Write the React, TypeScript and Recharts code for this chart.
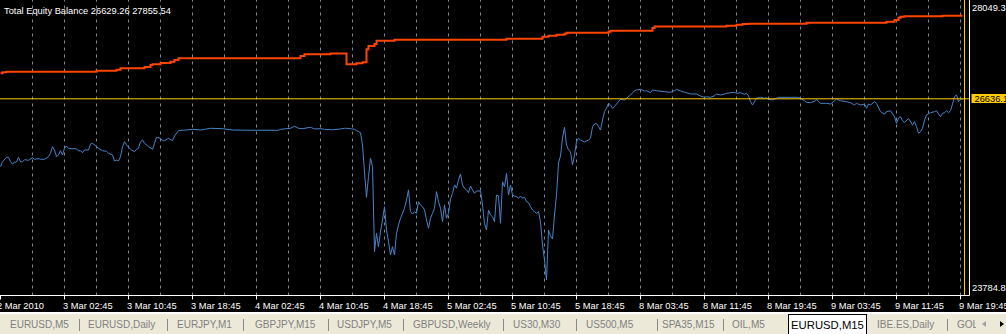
import React from "react";
import { LineChart, Line, XAxis, YAxis, ReferenceLine } from "recharts";

// balance (step line) – bar index where the balance changed, and the new balance
const balanceBars = [
  0, 1, 3, 48, 58, 60, 72, 75, 76, 80, 85, 87, 89, 150, 152, 165, 173, 178, 181, 183,
  184, 187, 188, 197, 253, 271, 274, 278, 282, 283, 304, 305, 326, 327, 363, 368, 371, 374, 403, 443,
  447, 449, 450, 452, 471, 481,
];
const balanceValues = [
  27011, 27025, 27034, 27049, 27064, 27084, 27103, 27133, 27143, 27162, 27181, 27206, 27231, 27265, 27290, 27302, 27143, 27158, 27172, 27363,
  27412, 27441, 27490, 27504, 27519, 27548, 27563, 27578, 27593, 27607, 27622, 27637, 27676, 27698, 27710, 27725, 27735, 27739, 27754, 27769,
  27794, 27828, 27842, 27848, 27855.54, 27855.54,
];

// equity – bar index and equity value
const equityBars = [
  0, 1, 3, 4, 5, 6, 7, 8, 9, 10, 11, 12, 14, 16, 17, 19, 20, 22, 24, 25,
  26, 27, 28, 29, 30, 31, 32, 33, 34, 36, 38, 39, 40, 41, 42, 44, 45, 46, 48, 49,
  51, 53, 54, 56, 57, 58, 59, 60, 61, 62, 63, 65, 67, 68, 69, 70, 71, 72, 74, 76,
  77, 78, 80, 81, 82, 84, 86, 87, 89, 91, 93, 96, 100, 102, 105, 111, 116, 125, 139, 140,
  145, 147, 149, 151, 155, 157, 160, 162, 166, 170, 172, 173, 175, 177, 178, 180, 181, 182, 183, 184,
  185, 186, 187, 188, 189, 190, 191, 192, 193, 194, 195, 196, 197, 198, 199, 200, 202, 203, 204, 205,
  206, 207, 208, 209, 210, 211, 212, 213, 214, 215, 216, 217, 218, 219, 220, 221, 222, 223, 224, 225,
  226, 227, 228, 229, 230, 231, 232, 233, 234, 235, 236, 237, 238, 240, 241, 242, 243, 244, 245, 246,
  247, 248, 249, 250, 251, 252, 253, 254, 255, 256, 257, 258, 259, 260, 261, 262, 263, 264, 265, 266,
  267, 268, 269, 270, 271, 272, 273, 274, 275, 276, 277, 278, 279, 280, 281, 282, 283, 284, 285, 286,
  287, 288, 289, 290, 292, 294, 295, 296, 297, 298, 299, 300, 301, 302, 303, 304, 305, 306, 307, 308,
  309, 310, 312, 313, 315, 317, 318, 320, 322, 323, 325, 326, 328, 332, 335, 337, 338, 340, 342, 343,
  345, 348, 350, 352, 353, 355, 357, 358, 360, 362, 363, 367, 368, 370, 372, 373, 374, 375, 376, 377,
  378, 380, 382, 383, 384, 386, 388, 389, 395, 398, 400, 402, 403, 405, 407, 408, 409, 410, 413, 415,
  417, 418, 420, 423, 425, 427, 428, 430, 432, 433, 434, 435, 437, 438, 440, 442, 443, 445, 447, 448,
  449, 450, 451, 452, 454, 456, 457, 458, 459, 460, 461, 462, 463, 465, 467, 468, 469, 470, 471, 472,
  473, 474, 475, 476, 477, 478, 479, 480, 481,
];
const equityValues = [
  25639, 25712, 25777, 25777, 25712, 25678, 25703, 25708, 25777, 25712, 25712, 25742, 25733, 25771, 25748, 25756, 25748, 25748, 25786, 25836,
  25933, 25884, 25786, 25811, 25874, 25811, 25909, 25943, 25909, 25903, 25903, 25869, 25874, 25844, 25884, 25884, 25972, 25983, 25933, 25909,
  25874, 25865, 25836, 25811, 25723, 25737, 25723, 25786, 25933, 26006, 25958, 25894, 25859, 25894, 25909, 26006, 26031, 25983, 25933, 25894,
  25983, 26071, 26056, 26021, 26021, 26056, 26021, 26090, 26168, 26174, 26178, 26188, 26178, 26188, 26203, 26197, 26178, 26174, 26174, 26188,
  26203, 26232, 26203, 26197, 26218, 26193, 26197, 26188, 26182, 26193, 26203, 26203, 26197, 26188, 26168, 26138, 25958, 25561, 25189, 25492,
  25762, 25639, 24390, 24660, 24464, 24684, 24856, 25051, 24709, 24537, 24342, 24464, 24342, 24660, 24782, 24881, 25028, 25150, 25297, 24978,
  24944, 24978, 24954, 25125, 25076, 25051, 25003, 24856, 24734, 24881, 24954, 25028, 25272, 25125, 25028, 24831, 25076, 24881, 24954, 25164,
  25248, 25370, 25322, 25443, 25532, 25370, 25322, 25297, 25257, 25355, 25297, 25248, 25282, 25282, 25076, 24807, 24709, 25003, 24929, 24904,
  24831, 25223, 25208, 24807, 25418, 25345, 25542, 25223, 25370, 25223, 25208, 25198, 25175, 25208, 25175, 25189, 25125, 25110, 25051, 25003,
  24978, 24954, 24978, 24826, 24489, 24268, 23974, 24709, 24621, 24577, 24929, 25223, 25693, 25796, 26060, 26218, 25958, 25884, 25859, 25664,
  25811, 26006, 26056, 26031, 26002, 26031, 26056, 26226, 26266, 26276, 26226, 26178, 26325, 26447, 26497, 26570, 26545, 26497, 26520, 26560,
  26594, 26629, 26619, 26644, 26692, 26755, 26766, 26776, 26751, 26755, 26726, 26766, 26755, 26741, 26732, 26755, 26776, 26751, 26732, 26726,
  26707, 26707, 26677, 26658, 26667, 26658, 26682, 26707, 26692, 26707, 26717, 26732, 26717, 26726, 26702, 26717, 26677, 26594, 26545, 26594,
  26644, 26658, 26644, 26652, 26629, 26619, 26644, 26658, 26658, 26658, 26644, 26608, 26585, 26579, 26600, 26629, 26594, 26570, 26570, 26560,
  26608, 26633, 26608, 26594, 26579, 26545, 26570, 26545, 26560, 26497, 26560, 26545, 26594, 26570, 26447, 26409, 26447, 26461, 26373, 26276,
  26354, 26373, 26315, 26285, 26350, 26251, 26300, 26226, 26129, 26153, 26203, 26325, 26398, 26432, 26447, 26461, 26413, 26373, 26423, 26432,
  26461, 26432, 26461, 26560, 26667, 26692, 26594, 26626, 26629.26,
];

const xTickBars = [0, 32, 64, 96, 128, 160, 192, 224, 256, 288, 320, 352, 384, 416, 448, 480];
const xLabels = [
  "2 Mar 2010", "3 Mar 02:45", "3 Mar 10:45", "3 Mar 18:45", "4 Mar 02:45", "4 Mar 10:45",
  "4 Mar 18:45", "5 Mar 02:45", "5 Mar 10:45", "5 Mar 18:45", "8 Mar 03:45", "8 Mar 11:45",
  "8 Mar 19:45", "9 Mar 03:45", "9 Mar 11:45", "9 Mar 19:45",
];
const gridBars = [
  16, 32, 48, 64, 80, 96, 112, 128, 144, 160, 176, 192, 208, 224, 240,
  256, 272, 288, 304, 320, 336, 352, 368, 384, 400, 416, 432, 448, 464, 480,
];
const lastBar = 482;

const yTicks = [28049.3, 26636.1, 23784.8];
const yTickLabels = ["28049.3", "26636.1", "23784.8"];
const currentEquity = 26636.1;

const tabs = [
  { label: "EURUSD,M5", x: 10 },
  { label: "EURUSD,Daily", x: 88 },
  { label: "EURJPY,M1", x: 177 },
  { label: "GBPJPY,M15", x: 255 },
  { label: "USDJPY,M5", x: 337 },
  { label: "GBPUSD,Weekly", x: 413 },
  { label: "US30,M30", x: 513 },
  { label: "US500,M5", x: 586 },
  { label: "SPA35,M15", x: 662 },
  { label: "OIL,M5", x: 732 },
  { label: "IBE.ES,Daily", x: 877 },
  { label: "GOL", x: 957 },
];
const separators = [79, 167, 243, 328, 403, 503, 576, 657, 723, 947];

const balanceData = balanceBars.map((bar, i) => ({ bar, v: balanceValues[i] }));
const equityData = equityBars.map((bar, i) => ({ bar, v: equityValues[i] }));

const FONT = "'Liberation Sans', Arial, sans-serif";
const GOLD = "#ffcc00";
const GRID = "#778899";

const XTick = (props: any) => {
  const { x, payload } = props;
  const i = xTickBars.indexOf(payload.value);
  if (i < 0) return null;
  return (
    <text x={x + (i === 0 ? -3.5 : -1.5)} y={308.5} fill="#fff" fontSize={9.3} fontFamily={FONT}>
      {xLabels[i]}
    </text>
  );
};

const YTick = (props: any) => {
  const { y, payload } = props;
  const i = yTicks.indexOf(payload.value);
  if (i < 0) return null;
  if (payload.value === currentEquity) {
    return (
      <g>
        <rect x={971.5} y={y - 4.8} width={40} height={9} fill={GOLD} />
        <text x={974.5} y={y + 3.4} fill="#000" fontSize={9.3} fontFamily={FONT}>
          {yTickLabels[i]}
        </text>
      </g>
    );
  }
  const dy = i === 0 ? 8 : -2.4;
  return (
    <text x={972} y={y + dy} fill="#fff" fontSize={9.3} fontFamily={FONT}>
      {yTickLabels[i]}
    </text>
  );
};

export default function App() {
  return (
    <div
      style={{
        position: "fixed",
        left: 0,
        top: 0,
        width: 1006,
        height: 334,
        overflow: "hidden",
        background: "#000",
        fontFamily: FONT,
      }}
    >
      <LineChart width={1006} height={312} margin={{ top: 0, right: 0, left: 0, bottom: 0 }}>
        <XAxis
          type="number"
          dataKey="bar"
          domain={[-0.25, 484.5]}
          allowDataOverflow
          ticks={xTickBars}
          interval={0}
          tick={<XTick />}
          tickSize={4}
          tickLine={{ stroke: "#fff" }}
          axisLine={{ stroke: "#fff" }}
          height={16.5}
        />
        <YAxis
          type="number"
          orientation="right"
          domain={[23746.7, 28087.6]}
          allowDataOverflow
          ticks={yTicks}
          interval={0}
          tick={<YTick />}
          tickLine={false}
          axisLine={{ stroke: "#fff" }}
          width={36.5}
        />
        {gridBars.map((b) => (
          <ReferenceLine key={b} x={b} stroke={GRID} strokeDasharray="3 4" />
        ))}
        <Line
          data={balanceData}
          dataKey="v"
          type="stepAfter"
          stroke="#ff4500"
          strokeWidth={2}
          dot={false}
          isAnimationActive={false}
        />
        <Line
          data={equityData}
          dataKey="v"
          type="linear"
          stroke="#4684c8"
          strokeWidth={1}
          dot={false}
          isAnimationActive={false}
        />
        <ReferenceLine y={currentEquity} stroke={GOLD} />
        <ReferenceLine x={lastBar} stroke={GOLD} />
      </LineChart>

      <svg style={{ position: "absolute", left: 0, top: 0 }} width={400} height={20}>
        <text x={4} y={13.5} fill="#fff" fontSize={9.3} fontFamily={FONT}>
          Total Equity Balance 26629.26 27855.54
        </text>
      </svg>

      {/* symbol tabs */}
      <div style={{ position: "absolute", left: 0, top: 312, width: 1006, height: 2, background: "#fff" }} />
      <div style={{ position: "absolute", left: 0, top: 314, width: 1006, height: 20, background: "#ece9d8" }}>
        {tabs.map((t) => (
          <div
            key={t.label}
            style={{
              position: "absolute",
              left: t.x,
              top: 0,
              height: 20,
              lineHeight: "21px",
              fontSize: 10,
              color: "#808080",
              whiteSpace: "nowrap",
            }}
          >
            {t.label}
          </div>
        ))}
        {separators.map((s) => (
          <div key={s} style={{ position: "absolute", left: s, top: 5, width: 1, height: 12, background: "#8a8a8a" }} />
        ))}
        <div
          style={{
            position: "absolute",
            left: 788,
            top: 0,
            width: 77,
            height: 20,
            background: "#fff",
            borderTop: "1px solid #000",
            borderLeft: "1px solid #000",
            borderRight: "1px solid #000",
            fontSize: 11.3,
            lineHeight: "20px",
            color: "#000",
            textAlign: "center",
            whiteSpace: "nowrap",
          }}
        >
          EURUSD,M15
        </div>
        <div
          style={{
            position: "absolute",
            left: 976,
            top: 0,
            width: 30,
            height: 20,
            background: "#ece9d8",
          }}
        />
        <div
          style={{
            position: "absolute",
            left: 982,
            top: 7,
            width: 0,
            height: 0,
            borderTop: "3.5px solid transparent",
            borderBottom: "3.5px solid transparent",
            borderRight: "4px solid #a0a0a0",
          }}
        />
        <div
          style={{
            position: "absolute",
            left: 1000,
            top: 7,
            width: 0,
            height: 0,
            borderTop: "3.5px solid transparent",
            borderBottom: "3.5px solid transparent",
            borderLeft: "4px solid #000",
          }}
        />
      </div>
    </div>
  );
}
